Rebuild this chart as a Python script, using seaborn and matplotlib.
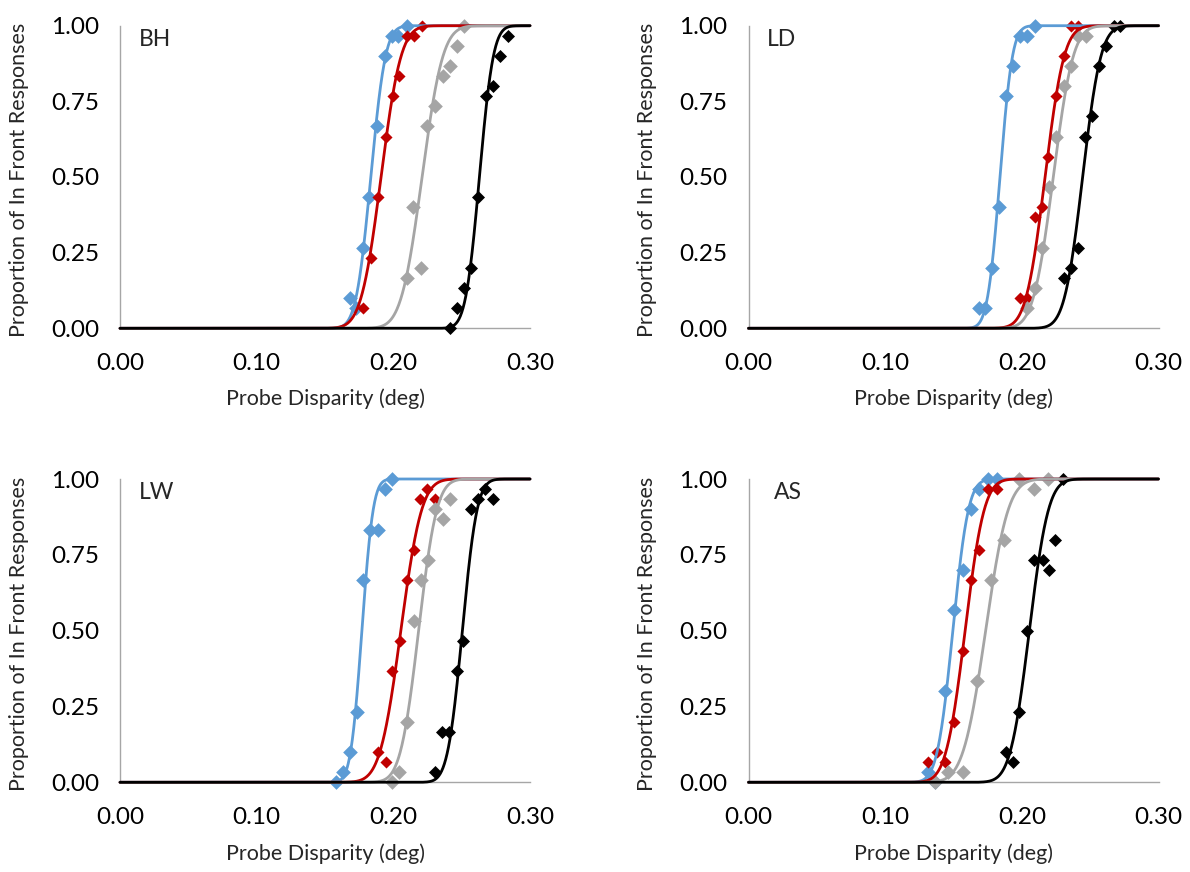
import math
import numpy as np
import pandas as pd
import matplotlib
matplotlib.use("Agg")
import matplotlib.pyplot as plt
import seaborn as sns

# ---------------- data ----------------
conditions = ["blue", "red", "gray", "black"]
colors = {"blue": "#5B9BD5", "red": "#C00000", "gray": "#A5A5A5", "black": "#000000"}
marker_sizes = {"blue": 56, "red": 38, "gray": 56, "black": 44}

x_ticks = [0.00, 0.10, 0.20, 0.30]
y_ticks = [0.00, 0.25, 0.50, 0.75, 1.00]

# Observer BH
bh_blue_x = [0.2098, 0.1988, 0.2037, 0.1939, 0.1883, 0.1824, 0.1780, 0.1683, 0.1727]
bh_blue_y = [1.000, 0.967, 0.967, 0.900, 0.667, 0.433, 0.267, 0.100, 0.067]
bh_red_x = [0.2207, 0.2098, 0.2154, 0.2044, 0.1995, 0.1946, 0.1890, 0.1837, 0.1780]
bh_red_y = [1.000, 0.967, 0.967, 0.833, 0.767, 0.633, 0.433, 0.233, 0.067]
bh_gray_x = [0.2517, 0.2463, 0.2415, 0.2361, 0.2305, 0.2249, 0.2146, 0.2202, 0.2098]
bh_gray_y = [1.000, 0.933, 0.867, 0.833, 0.733, 0.667, 0.400, 0.200, 0.167]
bh_black_x = [0.2837, 0.2780, 0.2727, 0.2676, 0.2622, 0.2568, 0.2517, 0.2463, 0.2415]
bh_black_y = [0.967, 0.900, 0.800, 0.767, 0.433, 0.200, 0.133, 0.067, 0.000]
bh_fit_mu = [0.1835, 0.1910, 0.2210, 0.2630]
bh_fit_sigma = [0.0085, 0.0115, 0.0120, 0.0080]

# Observer LD
ld_blue_x = [0.2098, 0.1988, 0.2041, 0.1939, 0.1885, 0.1834, 0.1780, 0.1683, 0.1732]
ld_blue_y = [1.000, 0.967, 0.967, 0.867, 0.767, 0.400, 0.200, 0.067, 0.067]
ld_red_x = [0.2359, 0.2410, 0.2305, 0.2251, 0.2195, 0.2146, 0.2098, 0.1988, 0.2041]
ld_red_y = [1.000, 1.000, 0.900, 0.767, 0.567, 0.400, 0.367, 0.100, 0.100]
ld_gray_x = [0.2468, 0.2410, 0.2359, 0.2305, 0.2251, 0.2202, 0.2146, 0.2098, 0.2041]
ld_gray_y = [0.967, 0.967, 0.867, 0.800, 0.633, 0.467, 0.267, 0.133, 0.067]
ld_black_x = [0.2671, 0.2720, 0.2617, 0.2566, 0.2512, 0.2463, 0.2410, 0.2359, 0.2305]
ld_black_y = [1.000, 1.000, 0.933, 0.867, 0.700, 0.633, 0.267, 0.200, 0.167]
ld_fit_mu = [0.1840, 0.2170, 0.2230, 0.2445]
ld_fit_sigma = [0.0072, 0.0110, 0.0115, 0.0105]

# Observer LW
lw_blue_x = [0.1988, 0.1939, 0.1829, 0.1890, 0.1780, 0.1732, 0.1683, 0.1629, 0.1578]
lw_blue_y = [1.000, 0.967, 0.833, 0.833, 0.667, 0.233, 0.100, 0.033, 0.000]
lw_red_x = [0.2249, 0.2195, 0.2305, 0.2151, 0.2098, 0.2049, 0.1988, 0.1890, 0.1944]
lw_red_y = [0.967, 0.933, 0.933, 0.767, 0.667, 0.467, 0.367, 0.100, 0.067]
lw_gray_x = [0.2415, 0.2305, 0.2361, 0.2250, 0.2202, 0.2151, 0.2098, 0.2044, 0.1988]
lw_gray_y = [0.933, 0.900, 0.867, 0.733, 0.667, 0.533, 0.200, 0.033, 0.000]
lw_black_x = [0.2671, 0.2622, 0.2568, 0.2727, 0.2512, 0.2463, 0.2405, 0.2356, 0.2307]
lw_black_y = [0.967, 0.933, 0.900, 0.933, 0.467, 0.367, 0.167, 0.167, 0.033]
lw_fit_mu = [0.1770, 0.2055, 0.2185, 0.2505]
lw_fit_sigma = [0.0065, 0.0120, 0.0105, 0.0085]

# Observer AS
as_blue_x = [0.1751, 0.1816, 0.1685, 0.1629, 0.1568, 0.1500, 0.1441, 0.1312, 0.1361]
as_blue_y = [1.000, 1.000, 0.967, 0.900, 0.700, 0.567, 0.300, 0.033, 0.000]
as_red_x = [0.1751, 0.1816, 0.1685, 0.1629, 0.1568, 0.1507, 0.1378, 0.1312, 0.1441]
as_red_y = [0.967, 0.967, 0.767, 0.667, 0.433, 0.200, 0.100, 0.067, 0.067]
as_gray_x = [0.1982, 0.2195, 0.2088, 0.1870, 0.1775, 0.1670, 0.1568, 0.1458, 0.1361]
as_gray_y = [1.000, 1.000, 0.967, 0.800, 0.667, 0.333, 0.033, 0.033, 0.000]
as_black_x = [0.2304, 0.2246, 0.2092, 0.2153, 0.2197, 0.2036, 0.1982, 0.1885, 0.1934]
as_black_y = [1.000, 0.800, 0.733, 0.733, 0.700, 0.500, 0.233, 0.100, 0.067]
as_fit_mu = [0.1495, 0.1585, 0.1735, 0.2055]
as_fit_sigma = [0.0090, 0.0110, 0.0130, 0.0110]

panel_data = {
    "BH": ([bh_blue_x, bh_red_x, bh_gray_x, bh_black_x],
           [bh_blue_y, bh_red_y, bh_gray_y, bh_black_y], bh_fit_mu, bh_fit_sigma),
    "LD": ([ld_blue_x, ld_red_x, ld_gray_x, ld_black_x],
           [ld_blue_y, ld_red_y, ld_gray_y, ld_black_y], ld_fit_mu, ld_fit_sigma),
    "LW": ([lw_blue_x, lw_red_x, lw_gray_x, lw_black_x],
           [lw_blue_y, lw_red_y, lw_gray_y, lw_black_y], lw_fit_mu, lw_fit_sigma),
    "AS": ([as_blue_x, as_red_x, as_gray_x, as_black_x],
           [as_blue_y, as_red_y, as_gray_y, as_black_y], as_fit_mu, as_fit_sigma),
}

# ---------------- style ----------------
sns.set_style("white")
plt.rcParams["font.family"] = ["Lato", "DejaVu Sans"]
axis_gray = "#A6A6A6"

fig = plt.figure(figsize=(11.9, 8.72), dpi=100)
W, H = 1190.0, 872.0
# axes boxes in pixels: (left, top, right, bottom)
boxes = {
    "BH": (120, 25.7, 530, 328.3),
    "LD": (748.5, 25.7, 1158.5, 328.3),
    "LW": (120, 479.0, 530, 782.3),
    "AS": (748.5, 479.0, 1158.5, 782.3),
}
label_x = {"BH": 0.045, "LD": 0.045, "LW": 0.045, "AS": 0.062}

erf = np.vectorize(math.erf)
grid = np.linspace(0.0, 0.30, 901)

for name in ["BH", "LD", "LW", "AS"]:
    l, t, r, b = boxes[name]
    ax = fig.add_axes([l / W, (H - b) / H, (r - l) / W, (b - t) / H])
    xs, ys, mus, sigmas = panel_data[name]

    pts = pd.concat([pd.DataFrame({"x": xx, "y": yy, "cond": c})
                     for c, xx, yy in zip(conditions, xs, ys)], ignore_index=True)
    curves = pd.concat([pd.DataFrame({"x": grid,
                                      "y": 0.5 * (1 + erf((grid - m) / (s * math.sqrt(2)))),
                                      "cond": c})
                        for c, m, s in zip(conditions, mus, sigmas)], ignore_index=True)

    for c in conditions:
        sub = pts[pts["cond"] == c]
        sns.scatterplot(data=sub, x="x", y="y", ax=ax, color=colors[c], marker="D",
                        s=marker_sizes[c], linewidth=0, legend=False, clip_on=False,
                        zorder=3)
    for c in conditions:
        sub = curves[curves["cond"] == c]
        sns.lineplot(data=sub, x="x", y="y", ax=ax, color=colors[c], lw=2.0,
                     estimator=None, sort=False, legend=False, clip_on=False, zorder=4)

    ax.set_xlim(0, 0.30)
    ax.set_ylim(0, 1.0)
    ax.set_xticks(x_ticks)
    ax.set_yticks(y_ticks)
    ax.set_xticklabels([f"{v:.2f}" for v in x_ticks])
    ax.set_yticklabels([f"{v:.2f}" for v in y_ticks])
    for side in ["top", "right"]:
        ax.spines[side].set_visible(False)
    for side in ["left", "bottom"]:
        ax.spines[side].set_color(axis_gray)
        ax.spines[side].set_linewidth(1.0)
    ax.tick_params(axis="both", direction="out", length=5, width=1.0, color=axis_gray,
                   labelsize=17.5, labelcolor="black")
    ax.tick_params(axis="y", pad=10)
    ax.tick_params(axis="x", pad=13)
    ax.set_xlabel("Probe Disparity (deg)", fontsize=15.5)
    ax.set_ylabel("Proportion of In Front Responses", fontsize=15.5)
    ax.xaxis.set_label_coords(0.5, -0.20)
    ax.yaxis.set_label_coords(-0.223, 0.49)
    ax.text(label_x[name], 0.955, name, transform=ax.transAxes, fontsize=16.5,
            ha="left", va="center")
    ax.set_facecolor("white")

fig.savefig("out.png", dpi=100, facecolor="white")
